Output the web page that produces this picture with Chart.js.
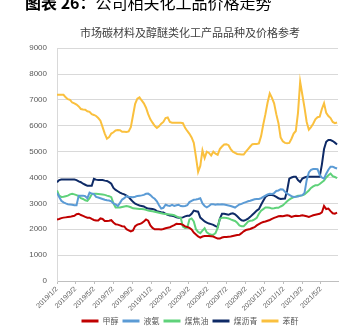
<!DOCTYPE html>
<html><head><meta charset="utf-8">
<script src="https://cdn.jsdelivr.net/npm/chart.js@4.4.0/dist/chart.umd.min.js"></script>
<style>
html,body{margin:0;padding:0;background:#fff;overflow:hidden;}
#wrap{position:relative;width:353px;height:335px;overflow:hidden;}
#heading{position:absolute;left:25px;top:-7px;font-family:"Noto Sans CJK SC",sans-serif;font-size:16px;line-height:18px;color:#000;white-space:nowrap;}
canvas{position:absolute;left:0;top:0;}
</style></head><body>
<div id="wrap"><canvas id="c" width="353" height="335"></canvas><div id="heading"><b>图表 26：</b>公司相关化工品价格走势</div></div>
<script>
const chartTitle = '市场碳材料及醇醚类化工产品品种及价格参考';
const startDate = '2019/1/2';
const weeks = 130;
const tickLabels = ['2019/1/2','2019/3/2','2019/5/2','2019/7/2','2019/9/2','2019/11/2','2020/1/2','2020/3/2','2020/5/2','2020/7/2','2020/9/2','2020/11/2','2021/1/2','2021/3/2','2021/5/2'];
const yTicks = [0,1000,2000,3000,4000,5000,6000,7000,8000,9000];
const seriesNames = ['甲醇','液氨','煤焦油','煤沥青','苯酐'];

const methanol = [2380,2400,2430,2450,2460,2470,2480,2500,2520,2580,
 2600,2550,2520,2480,2450,2450,2400,2360,2340,2340,
 2420,2400,2320,2320,2330,2350,2260,2190,2180,2150,
 2120,2110,2000,1960,1920,1950,2120,2180,2200,2240,
 2300,2380,2330,2150,2050,2000,2000,2000,1990,2010,
 2040,2060,2080,2120,2160,2210,2200,2200,2170,2110,
 2090,2050,1990,1870,1800,1720,1680,1720,1740,1740,
 1740,1730,1720,1680,1640,1640,1680,1700,1700,1710,
 1720,1740,1760,1780,1790,1850,1920,1970,1990,2010,
 2050,2080,2150,2200,2250,2280,2300,2330,2360,2400,
 2440,2470,2500,2510,2500,2520,2540,2520,2480,2500,
 2520,2510,2520,2540,2520,2500,2480,2510,2540,2560,
 2580,2600,2650,2900,2780,2800,2700,2620,2600,2640];

const ammonia = [3400,3250,3100,3040,3000,2970,2960,2950,2930,2930,
 3300,3300,3300,3280,3200,3420,3380,3360,3250,3230,
 3200,3170,3140,3120,3110,3080,3000,2960,2900,3020,
 3150,3200,3280,3260,3250,3240,3260,3290,3300,3310,
 3330,3370,3380,3320,3240,3180,3080,2930,2800,2830,
 2950,2920,2900,2940,2900,2930,2950,2900,2890,2900,
 2930,3050,3100,3140,3150,3170,3200,3000,2900,2850,
 2900,2970,2970,2950,2970,2960,2970,2960,2940,2920,
 2900,2870,2840,2900,2960,2980,3020,3050,3080,3100,
 3130,3160,3170,3170,3200,3250,3300,3350,3370,3360,
 3400,3480,3500,3550,3540,3450,3380,3330,3280,3250,
 3260,3270,3300,3320,3400,3900,4200,4300,4330,4330,
 4320,4100,4000,3960,4150,4300,4420,4420,4380,4350];

const coalTar = [3500,3300,3250,3260,3280,3300,3350,3370,3350,3320,
 3280,3200,3170,3120,3100,3200,3350,3370,3370,3360,
 3350,3340,3330,3300,3280,3240,3000,2840,2840,2840,
 2860,2880,2900,2880,2850,2810,2800,2790,2780,2780,
 2770,2750,2720,2710,2700,2680,2660,2640,2620,2600,
 2590,2580,2570,2560,2540,2500,2460,2440,2100,2050,
 2060,2380,2420,2300,2000,1900,1850,1950,2040,1880,
 1820,1790,1790,1850,2050,2400,2450,2450,2440,2420,
 2380,2350,2320,2250,2150,2120,2120,2200,2300,2330,
 2340,2380,2440,2600,2720,2780,2840,2840,2830,2800,
 2810,2830,2830,2880,2920,3000,3080,3150,3200,3240,
 3260,3300,3300,3310,3350,3420,3500,3600,3660,3700,
 3700,3750,3820,3880,4000,4090,4150,4050,4020,3980];

const coalPitch = [3820,3900,3920,3920,3920,3920,3920,3920,3920,3900,
 3850,3820,3760,3720,3680,3680,3680,3950,3920,3900,
 3900,3900,3880,3870,3820,3760,3600,3520,3470,3420,
 3380,3350,3300,3240,3150,3060,2990,2950,2920,2900,
 2880,2830,2800,2790,2780,2760,2700,2680,2660,2650,
 2600,2560,2530,2520,2500,2460,2450,2450,2460,2500,
 2520,2520,2600,2720,2700,2680,2450,2380,2300,2260,
 2220,2200,2170,2120,2090,2400,2600,2600,2580,2560,
 2600,2620,2580,2500,2420,2350,2330,2360,2410,2480,
 2560,2640,2720,2780,2950,3100,3250,3310,3320,3320,
 3300,3250,3200,3170,3180,3190,3500,3960,4000,4030,
 4030,3900,3830,3960,4000,4030,4030,4030,4030,4030,
 4030,4030,4500,5100,5380,5450,5450,5410,5350,5280];

const phthalic = [7200,7200,7200,7200,7100,7030,7000,6900,6870,6820,
 6750,6650,6630,6620,6560,6540,6450,6420,6380,6300,
 6200,5950,5700,5500,5560,5700,5750,5820,5840,5830,
 5770,5770,5760,5780,5950,6400,6850,7050,7100,6980,
 6870,6700,6450,6250,6120,6000,5920,5980,6080,6150,
 6300,6320,6150,6120,6120,6120,6120,6120,6100,5920,
 5800,5690,5550,5340,4800,4220,4450,5050,4750,5000,
 4950,4850,5000,4920,4880,5100,5200,5280,5290,5250,
 5100,5000,4950,4910,4900,4890,4890,5000,5100,5200,
 5290,5300,5300,5320,5600,6050,6450,6900,7250,7080,
 6870,6450,6100,5550,5400,5340,5330,5340,5500,5700,
 5800,6500,7700,7200,6700,6150,5850,5950,6080,6250,
 6330,6350,6650,6870,6500,6380,6300,6150,6100,6130];

const colors = ['#C00000','#5B9BD5','#5FD27A','#0E2A66','#FAC03E'];
const seriesList = [methanol, ammonia, coalTar, coalPitch, phthalic];

function dayOf(s){ const p = s.split('/').map(Number); return Date.UTC(p[0], p[1]-1, p[2]) / 86400000; }
const day0 = dayOf(startDate);
const categories = [];
for (let i = 0; i < weeks; i++) categories.push(i * 7);
const tickDays = tickLabels.map(t => dayOf(t) - day0);

Chart.defaults.font.family = '"Liberation Sans","Noto Sans CJK SC",sans-serif';

// shift the full-width title and legend boxes so they centre where the original did
const centreShift = {
  id: 'centreShift',
  afterLayout(chart) {
    for (const box of [chart.titleBlock, chart.legend]) {
      if (box) { box.left += 21; box.right += 21; }
    }
  }
};

new Chart(document.getElementById('c'), {
  type: 'line',
  plugins: [centreShift],
  data: {
    datasets: seriesList.map((s, k) => ({
      label: seriesNames[k],
      data: s.map((v, i) => ({x: categories[i], y: v})),
      borderColor: colors[k],
      backgroundColor: colors[k],
      borderWidth: 2,
      pointRadius: 0,
      tension: 0,
      fill: false
    }))
  },
  options: {
    responsive: false,
    animation: false,
    layout: {padding: {left: 0, right: 15, top: 0, bottom: 0}},
    plugins: {
      title: {display: true, text: chartTitle, color: '#404040',
        font: {size: 11, weight: 'normal', family: '"Noto Sans CJK SC",sans-serif'},
        padding: {top: 26, bottom: 9}},
      legend: {position: 'bottom',
        labels: {boxWidth: 17, boxHeight: 3, padding: 4, color: '#595959',
          font: {size: 8, family: '"Noto Sans CJK SC",sans-serif'},
          generateLabels: (chart) => Chart.defaults.plugins.legend.labels.generateLabels(chart).map(l => Object.assign(l, {lineWidth: 0}))}},
      tooltip: {enabled: false}
    },
    scales: {
      x: {type: 'linear', min: 0, max: categories[weeks-1] + 3,
        afterFit: (s) => { s.height = 32; },
        afterBuildTicks: (s) => { s.ticks = tickDays.map(v => ({value: v})); },
        grid: {drawOnChartArea: false, drawTicks: true, tickLength: 3, color: '#bfbfbf'},
        border: {display: true, color: '#bfbfbf'},
        ticks: {autoSkip: false, minRotation: 45, maxRotation: 45, padding: 1, color: '#595959', font: {size: 7},
          callback: (v) => { const k = tickDays.indexOf(v); return k >= 0 ? tickLabels[k] : ''; }}
      },
      y: {min: 0, max: 9000,
        afterFit: (s) => { s.width = 57; },
        afterBuildTicks: (s) => { s.ticks = yTicks.map(v => ({value: v})); },
        grid: {color: '#d9d9d9', drawTicks: false},
        border: {display: true, color: '#d9d9d9'},
        ticks: {padding: 10, color: '#595959', font: {size: 8}, callback: (v) => String(v)}
      }
    }
  }
});
</script>
</body></html>
